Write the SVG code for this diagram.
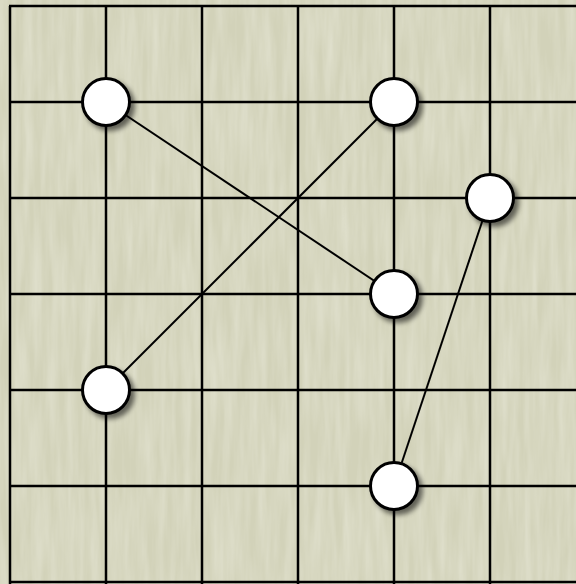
<svg xmlns="http://www.w3.org/2000/svg" width="576" height="584" viewBox="0 0 576 584">
  <defs>
    <filter id="tex" x="0" y="0" width="100%" height="100%">
      <feTurbulence type="fractalNoise" baseFrequency="0.12 0.012" numOctaves="3" seed="4" result="n"/>
      <feColorMatrix in="n" type="matrix" values="0 0 0 0 1  0 0 0 0 1  0 0 0 0 0.95  0.45 0 0 0 -0.12"/>
    </filter>
    <filter id="shadow" x="-50%" y="-50%" width="200%" height="200%">
      <feGaussianBlur in="SourceAlpha" stdDeviation="2.5"/>
      <feOffset dx="4" dy="4" result="b"/>
      <feComponentTransfer><feFuncA type="linear" slope="0.55"/></feComponentTransfer>
      <feMerge><feMergeNode/><feMergeNode in="SourceGraphic"/></feMerge>
    </filter>
  </defs>
  <style>
    .grid line { stroke: #000; stroke-width: 2.5; }
    .edge { stroke: #000; stroke-width: 2; fill: none; }
    .node circle { fill: #fff; stroke: #000; stroke-width: 3; filter: url(#shadow); }
  </style>
  <rect width="576" height="584" fill="#d2d2b9"/>
  <rect width="576" height="584" filter="url(#tex)"/>
  <g class="grid">
    <line x1="10" y1="6" x2="10" y2="584"/>
    <line x1="106" y1="6" x2="106" y2="584"/>
    <line x1="202" y1="6" x2="202" y2="584"/>
    <line x1="298" y1="6" x2="298" y2="584"/>
    <line x1="394" y1="6" x2="394" y2="584"/>
    <line x1="490" y1="6" x2="490" y2="584"/>
    <line x1="9" y1="6" x2="576" y2="6"/>
    <line x1="9" y1="102" x2="576" y2="102"/>
    <line x1="9" y1="198" x2="576" y2="198"/>
    <line x1="9" y1="294" x2="576" y2="294"/>
    <line x1="9" y1="390" x2="576" y2="390"/>
    <line x1="9" y1="486" x2="576" y2="486"/>
    <line x1="9" y1="582" x2="576" y2="582"/>
  </g>
  <g id="connectors">
    <line class="edge" x1="106" y1="102" x2="394" y2="294"/>
    <line class="edge" x1="394" y1="102" x2="106" y2="390"/>
    <line class="edge" x1="490" y1="198" x2="394" y2="486"/>
  </g>
  <g id="n1" class="node"><circle cx="106" cy="102" r="23.5"/></g>
  <g id="n2" class="node"><circle cx="394" cy="102" r="23.5"/></g>
  <g id="n3" class="node"><circle cx="490" cy="198" r="23.5"/></g>
  <g id="n4" class="node"><circle cx="394" cy="294" r="23.5"/></g>
  <g id="n5" class="node"><circle cx="106" cy="390" r="23.5"/></g>
  <g id="n6" class="node"><circle cx="394" cy="486" r="23.5"/></g>
</svg>
